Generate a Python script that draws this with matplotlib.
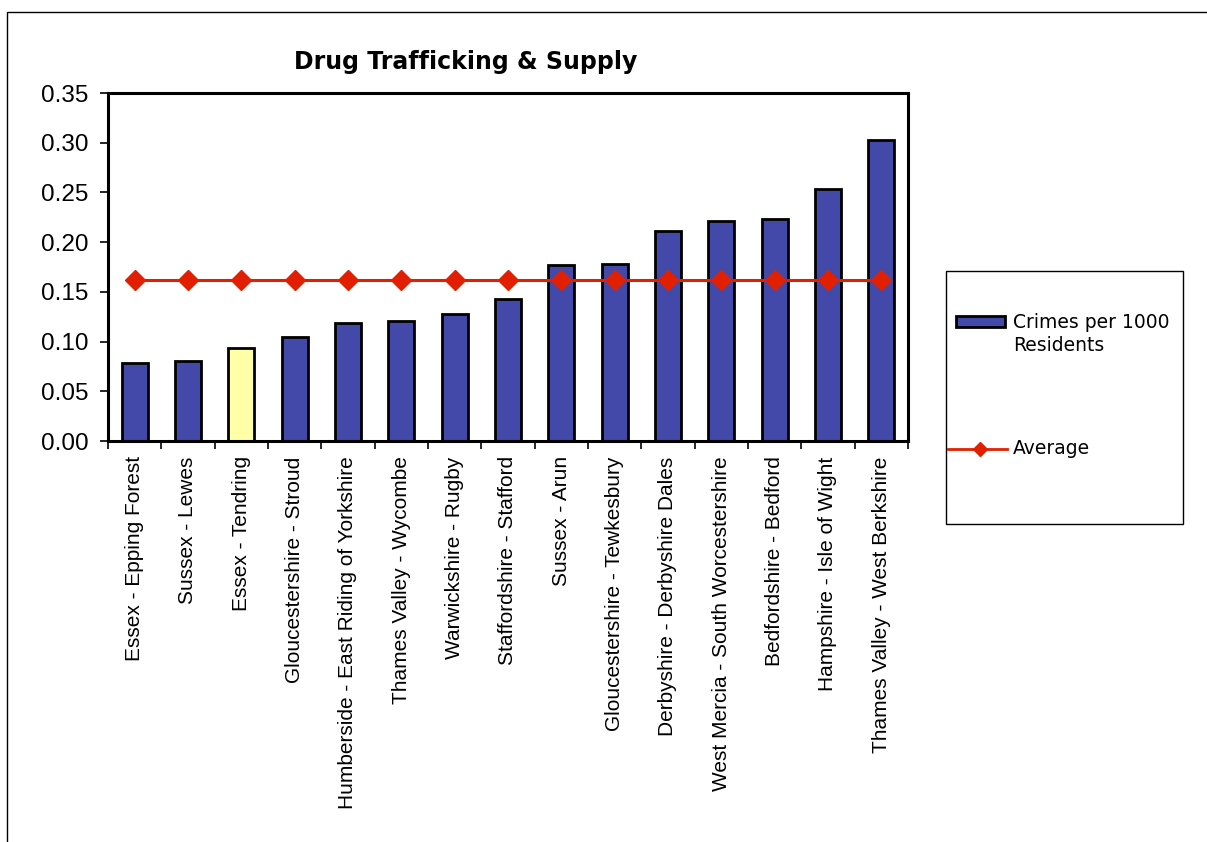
import numpy as np
import matplotlib.pyplot as plt
from matplotlib.patches import Rectangle
from matplotlib.lines import Line2D

# dados
areas = [
    "Essex - Epping Forest",
    "Sussex - Lewes",
    "Essex - Tendring",
    "Gloucestershire - Stroud",
    "Humberside - East Riding of Yorkshire",
    "Thames Valley - Wycombe",
    "Warwickshire - Rugby",
    "Staffordshire - Stafford",
    "Sussex - Arun",
    "Gloucestershire - Tewkesbury",
    "Derbyshire - Derbyshire Dales",
    "West Mercia - South Worcestershire",
    "Bedfordshire - Bedford",
    "Hampshire - Isle of Wight",
    "Thames Valley - West Berkshire",
]
crimes = [0.078, 0.080, 0.094, 0.105, 0.119, 0.121, 0.128, 0.143,
          0.177, 0.178, 0.211, 0.221, 0.223, 0.253, 0.303]
media = [0.162] * len(areas)
destaque = "Essex - Tendring"
yticks = [0.00, 0.05, 0.10, 0.15, 0.20, 0.25, 0.30, 0.35]

azul = "#4349A8"
amarelo = "#FFFFA8"
vermelho = "#E02000"

W, H = 1207, 842
fig = plt.figure(figsize=(W / 100, H / 100), dpi=100)
ax = fig.add_axes([108 / W, 1 - 441 / H, (908 - 108) / W, (441 - 93) / H])

x = np.arange(len(areas))
cores = [amarelo if a == destaque else azul for a in areas]
ax.bar(x, crimes, width=0.49, color=cores, edgecolor="black", linewidth=2, zorder=2)
ax.plot(x, media, color=vermelho, lw=2.2, marker="D", ms=10, zorder=3)

ax.set_xlim(-0.5, len(areas) - 0.5)
ax.set_ylim(0, 0.35)
ax.set_yticks(yticks)
ax.set_yticklabels([f"{v:.2f}" for v in yticks], family="Liberation Sans", fontsize=17.5)
ax.set_xticks(x)
ax.set_xticklabels(areas, rotation=90, family="Liberation Sans", fontsize=15)
ax.tick_params(axis="x", which="major", length=0, pad=11)
ax.set_xticks(np.arange(-0.5, len(areas)), minor=True)
ax.tick_params(axis="x", which="minor", length=6, width=1.2, direction="out")
ax.tick_params(axis="y", length=6, width=1.2, direction="out", pad=8)
for s in ax.spines.values():
    s.set_linewidth(2.2)

fig.text(466 / W, 1 - 62 / H, "Drug Trafficking & Supply", ha="center", va="center",
         fontsize=17, fontweight="bold", family="DejaVu Sans")

# legenda desenhada à mão
def fx(px):
    return px / W

def fy(py):
    return 1 - py / H

fig.patches.append(Rectangle((fx(946), fy(524)), fx(1183) - fx(946), fy(271) - fy(524),
                             transform=fig.transFigure, fill=False, edgecolor="black", lw=1))
fig.patches.append(Rectangle((fx(956), fy(327)), fx(1005) - fx(956), fy(316) - fy(327),
                             transform=fig.transFigure, facecolor=azul, edgecolor="black", lw=2))
fig.text(fx(1013), fy(334), "Crimes per 1000\nResidents", ha="left", va="center",
         fontsize=13.5, family="DejaVu Sans", linespacing=1.25)
fig.lines.append(Line2D([fx(948), fx(1007)], [fy(449), fy(449)], transform=fig.transFigure,
                        color=vermelho, lw=2))
fig.lines.append(Line2D([fx(980)], [fy(449)], transform=fig.transFigure,
                        color=vermelho, marker="D", ms=7))
fig.text(fx(1013), fy(449), "Average", ha="left", va="center",
         fontsize=13.5, family="DejaVu Sans")

# moldura externa
fig.patches.append(Rectangle((fx(7), -0.01), 1.02, fy(12) + 0.01, transform=fig.transFigure,
                             fill=False, edgecolor="black", lw=1, clip_on=False))

fig.savefig("out.png", dpi=100)
